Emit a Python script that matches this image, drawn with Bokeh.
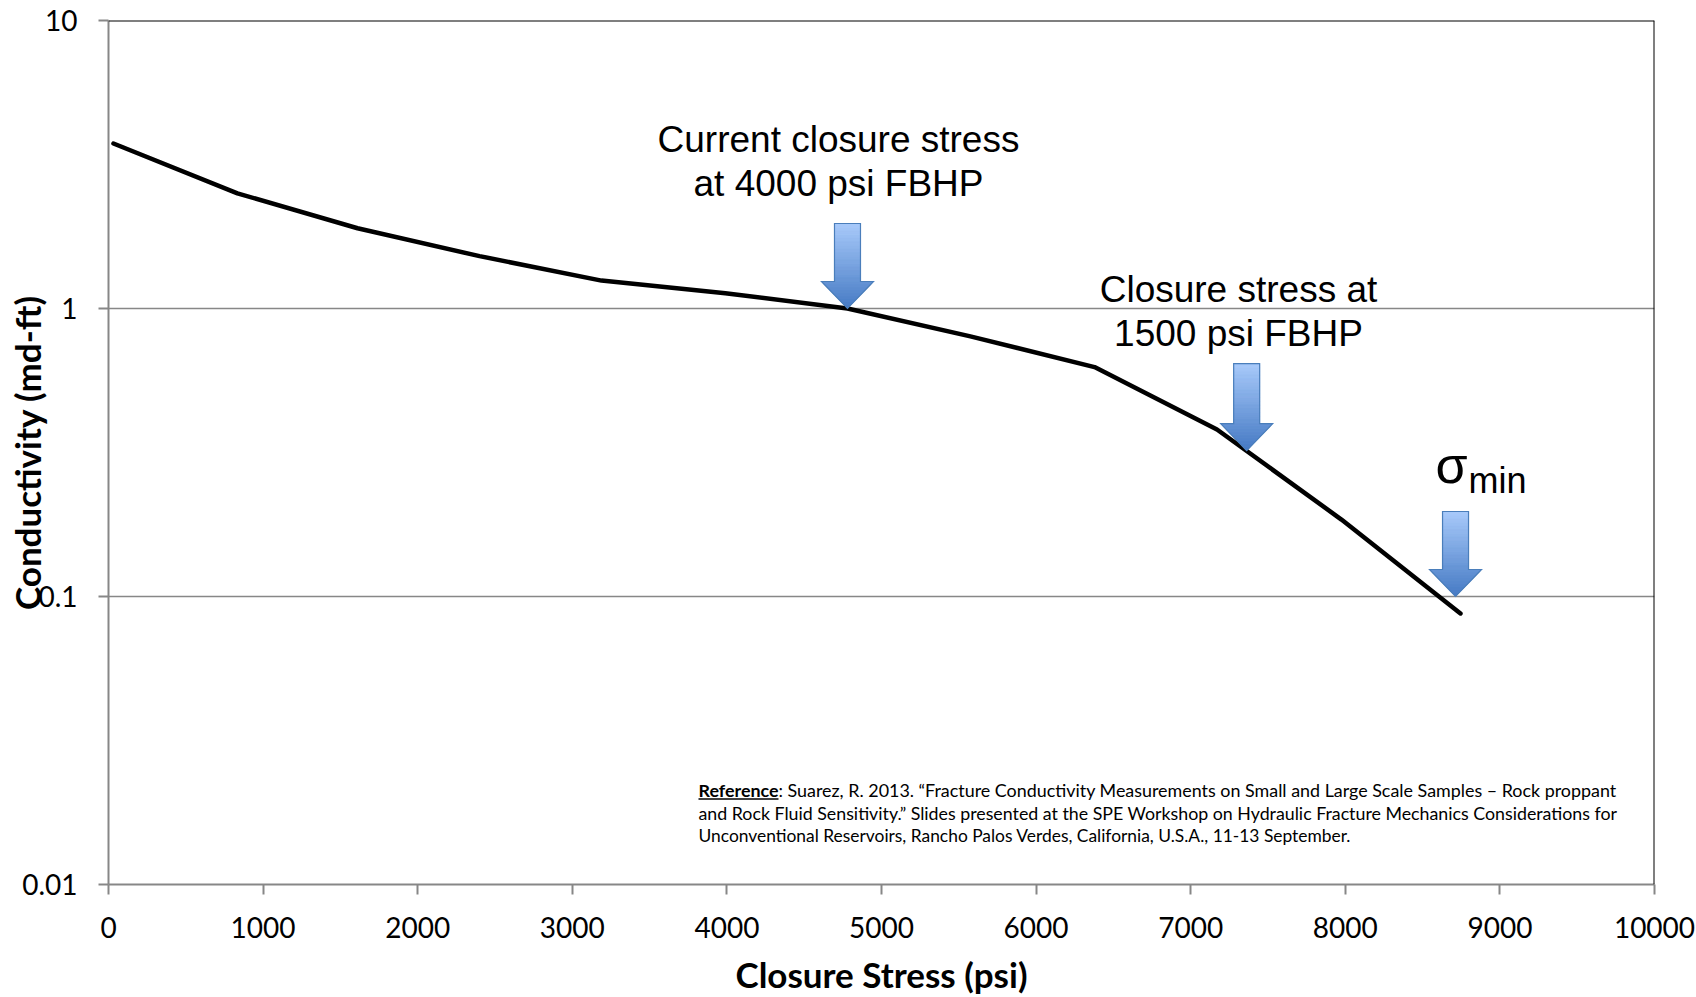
import math
from bokeh.plotting import figure
from bokeh.models import (Label, FixedTicker, CustomJSTickFormatter, Range1d, Span,
                          ColumnDataSource)
from bokeh.embed import file_html
from bokeh.resources import INLINE

# ---------------- data ----------------
stress_psi = [32, 834, 1611, 2400, 3189, 3990, 4780, 5575, 6378, 7170, 7975, 8745]
conductivity = [3.74, 2.51, 1.90, 1.52, 1.25, 1.13, 1.00, 0.80, 0.626, 0.380, 0.185, 0.0873]

x_ticks = [0, 1000, 2000, 3000, 4000, 5000, 6000, 7000, 8000, 9000, 10000]
y_ticks = [0.01, 0.1, 1, 10]

# annotation arrows (tip location in data units)
arrow_x = [4780, 7362, 8713]
arrow_tip_y = [1.0, 0.321, 0.1]
arrow_len_px = [85, 87, 85]

note1_lines = ["Current closure stress", "at 4000 psi FBHP"]
note2_lines = ["Closure stress at", "1500 psi FBHP"]
ref_bold = "Reference"
ref_lines = [
    ": Suarez, R. 2013. \u201cFracture Conductivity Measurements on Small and Large Scale Samples \u2013 Rock proppant",
    "and Rock Fluid Sensitivity.\u201d Slides presented at the SPE Workshop on Hydraulic Fracture Mechanics Considerations for",
    "Unconventional Reservoirs, Rancho Palos Verdes, California, U.S.A., 11-13 September.",
]

# ---------------- layout ----------------
W, H = 1696, 997
L, T, R, B = 108, 20, 1654, 884
FW, FH = R - L, B - T
X0, X1 = 0, 10000
LY0, LY1 = -2.0, 1.0


def dx(px):
    return X0 + (px - L) / FW * (X1 - X0)


def dy(py):
    return 10 ** (LY1 - (py - T) / FH * (LY1 - LY0))


def to_px(x, y):
    return L + (x - X0) / (X1 - X0) * FW, T + (LY1 - math.log10(y)) / (LY1 - LY0) * FH


p = figure(width=W, height=H, x_range=Range1d(X0, X1), y_range=Range1d(10 ** LY0, 10 ** LY1),
           y_axis_type="log", output_backend="svg", toolbar_location=None,
           min_border_left=L, min_border_right=W - R, min_border_top=T, min_border_bottom=H - B)
p.background_fill_color = "white"
p.border_fill_color = "white"
p.outline_line_color = None

GRAY = "#878787"
FONT = "Lato"

for ax in (p.xaxis[0], p.yaxis[0]):
    ax.axis_line_color = GRAY
    ax.axis_line_width = 2
    ax.major_tick_line_color = GRAY
    ax.major_tick_line_width = 2
    ax.major_tick_out = 10
    ax.major_tick_in = 0
    ax.minor_tick_line_color = None
    ax.major_label_text_font = FONT
    ax.major_label_text_font_size = "28px"
    ax.major_label_text_color = "black"
    ax.axis_label_text_font = FONT
    ax.axis_label_text_font_style = "bold"
    ax.axis_label_text_font_size = "35px"
    ax.axis_label_text_color = "black"

p.xaxis.ticker = FixedTicker(ticks=x_ticks)
p.yaxis.ticker = FixedTicker(ticks=y_ticks)
p.yaxis.formatter = CustomJSTickFormatter(code="return tick.toString()")
p.xaxis.formatter = CustomJSTickFormatter(code="return tick.toString()")
p.xaxis.major_label_standoff = 22
p.yaxis.major_label_standoff = 21
p.xaxis.axis_label = "Closure Stress (psi)"
p.yaxis.axis_label = "Conductivity (md-ft)"
p.xaxis.axis_label_standoff = 12
p.yaxis.axis_label_standoff = -29

p.xgrid.grid_line_color = None
p.ygrid.grid_line_color = GRAY
p.ygrid.grid_line_width = 1.5

p.add_layout(Span(location=10 ** LY1, dimension="width", line_color="black", line_width=2))
p.add_layout(Span(location=X1, dimension="height", line_color="black", line_width=2))

# ---------------- curve ----------------
src = ColumnDataSource(dict(x=stress_psi, y=conductivity))
p.line("x", "y", source=src, line_color="black", line_width=4.5,
       line_join="round", line_cap="round")

# ---------------- arrows with vertical gradient ----------------
C_TOP = (168, 202, 250)
C_BOT = (70, 122, 196)


def mix(f):
    r, g, b = (int(round(C_TOP[i] + (C_BOT[i] - C_TOP[i]) * f)) for i in range(3))
    return "#%02x%02x%02x" % (r, g, b)


xs, ys, cols = [], [], []
oxs, oys = [], []
SHW, HHW, HEADH = 13, 26, 27
for ax_, ay_, alen in zip(arrow_x, arrow_tip_y, arrow_len_px):
    cx, ty = to_px(ax_, ay_)
    top = ty - alen
    neck = ty - HEADH
    n_shaft = 16
    for i in range(n_shaft):
        y0 = top + (neck - top) * i / n_shaft
        y1 = top + (neck - top) * (i + 1) / n_shaft
        xs.append([dx(cx - SHW), dx(cx + SHW), dx(cx + SHW), dx(cx - SHW)])
        ys.append([dy(y0), dy(y0), dy(y1 + 0.4), dy(y1 + 0.4)])
        cols.append(mix(((y0 + y1) / 2 - top) / alen))
    n_head = 9
    for i in range(n_head):
        y0 = neck + HEADH * i / n_head
        y1 = neck + HEADH * (i + 1) / n_head
        w0 = HHW * (ty - y0) / HEADH
        y1b = min(y1 + 0.4, ty)
        w1 = HHW * (ty - y1b) / HEADH
        xs.append([dx(cx - w0), dx(cx + w0), dx(cx + w1), dx(cx - w1)])
        ys.append([dy(y0), dy(y0), dy(y1b), dy(y1b)])
        cols.append(mix(((y0 + y1) / 2 - top) / alen))
    oxs.append([dx(cx - SHW), dx(cx + SHW), dx(cx + SHW), dx(cx + HHW), dx(cx),
                dx(cx - HHW), dx(cx - SHW)])
    oys.append([dy(top), dy(top), dy(neck), dy(neck), dy(ty), dy(neck), dy(neck)])

p.patches(xs, ys, fill_color=cols, line_color=cols, line_width=0.5)
p.patches(oxs, oys, fill_color=None, line_color="#4a7ebb", line_width=1.2, line_join="miter")

# ---------------- text annotations ----------------
ARIAL = "Liberation Sans"


def add_label(px, py, text, size, font=ARIAL, align="center", baseline="middle", style="normal"):
    p.add_layout(Label(x=dx(px), y=dy(py), text=text, text_font=font,
                       text_font_size=size, text_align=align, text_baseline=baseline,
                       text_font_style=style, text_color="black"))


for i, t in enumerate(note1_lines):
    add_label(838, 139 + 44 * i, t, "37px")
for i, t in enumerate(note2_lines):
    add_label(1238, 289 + 44 * i, t, "37px")

add_label(1451, 464, "\u03c3", "52px", baseline="alphabetic")
add_label(1468, 480, "min", "36px", align="left", baseline="alphabetic")

# reference block
REF_X = 698
BOLD_W = 80
add_label(REF_X, 789, ref_bold, "17.9px", font=FONT, align="left", style="bold")
p.line([dx(REF_X), dx(REF_X + BOLD_W)], [dy(798.5), dy(798.5)], line_color="black", line_width=1.3)
add_label(REF_X + BOLD_W, 789, ref_lines[0], "17.9px", font=FONT, align="left")
add_label(REF_X, 812, ref_lines[1], "17.8px", font=FONT, align="left")
add_label(REF_X, 835, ref_lines[2], "17.4px", font=FONT, align="left")

open("out.html", "w").write(file_html(p, INLINE))
